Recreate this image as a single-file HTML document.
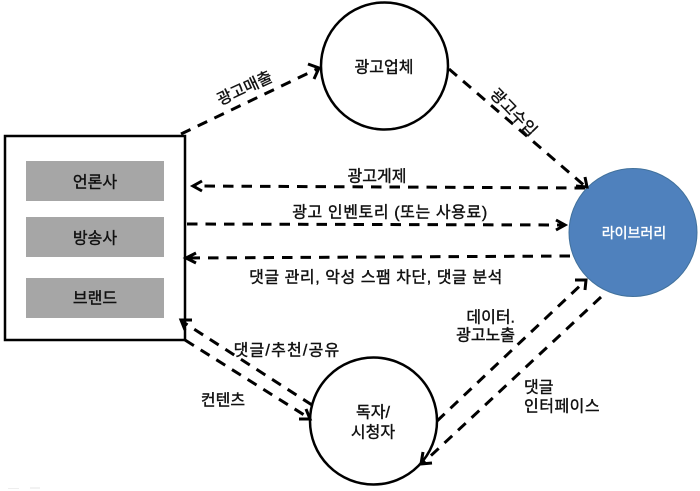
<!DOCTYPE html>
<html lang="ko">
<head>
<meta charset="utf-8">
<style>
html,body{margin:0;padding:0;background:#fff;width:700px;height:491px;overflow:hidden}
svg{display:block}
text{font-family:"Liberation Sans","Noto Sans CJK KR",sans-serif;font-size:16px;fill:#111;text-anchor:middle;dominant-baseline:central;stroke:#111;stroke-width:.4px}
.d{fill:none;stroke:#000;stroke-width:3;stroke-dasharray:10.5 8}
.h{fill:none;stroke:#000;stroke-width:3}
.c{fill:#fff;stroke:#000;stroke-width:2.5}
.g{fill:#a6a6a6}
</style>
</head>
<body>
<svg width="700" height="491" viewBox="0 0 700 491" xmlns="http://www.w3.org/2000/svg">
<rect x="5" y="136" width="180" height="204" fill="#fff" stroke="#000" stroke-width="2.5"/>
<rect class="g" x="26" y="161" width="138" height="40"/>
<rect class="g" x="26" y="217" width="138" height="40"/>
<rect class="g" x="26" y="278" width="138" height="40"/>
<rect x="8" y="488" width="11" height="1" fill="#eee"/>
<rect x="30" y="487" width="10" height="2" fill="#f2f2f2"/>
<circle class="c" cx="384.5" cy="66" r="63.5"/>
<circle class="c" cx="373.5" cy="421" r="63.5"/>
<circle cx="633" cy="232.5" r="64" fill="#4f81bd" stroke="#41719c" stroke-width="1"/>

<line class="d" x1="181" y1="134" x2="317" y2="69"/>
<path class="h" d="M308 64L319 68L314 79"/>
<line class="d" x1="449" y1="69" x2="586" y2="187"/>
<path class="h" d="M576 186L587 187L585 177"/>
<line class="d" x1="585" y1="188" x2="195" y2="186"/>
<path class="h" d="M202 181L193 186L202 191"/>
<line class="d" x1="187" y1="224" x2="563" y2="225"/>
<path class="h" d="M556 220L565 225L556 230"/>
<line class="d" x1="570" y1="256" x2="188" y2="258"/>
<path class="h" d="M196 253L186 258L196 263"/>
<line class="d" x1="437" y1="421" x2="585" y2="281"/>
<path class="h" d="M575 280L586 280L585 290"/>
<line class="d" x1="601" y1="297" x2="423" y2="463"/>
<path class="h" d="M423 452L421 464L432 463"/>
<line class="d" x1="185" y1="340" x2="309" y2="418"/>
<path class="h" d="M299 419L310 419L306 409"/>
<line class="d" x1="312" y1="405" x2="183" y2="322"/>
<path class="h" d="M192 320L181 320L185 330"/>

<text x="245" y="89" transform="rotate(-25 245 89)">광고매출</text>
<text x="384" y="68">광고업체</text>
<text x="513" y="113" transform="rotate(46 513 113)">광고수입</text>
<text x="377" y="177">광고게제</text>
<text x="390" y="213" style="letter-spacing:.6px">광고 인벤토리 (또는 사용료)</text>
<text x="376" y="278" style="letter-spacing:.55px">댓글 관리, 악성 스팸 차단, 댓글 분석</text>
<text x="95" y="183">언론사</text>
<text x="95" y="239">방송사</text>
<text x="95" y="299">브랜드</text>
<text x="634" y="233" style="fill:#fff;stroke:#fff;font-size:14px">라이브러리</text>
<text x="287" y="351" style="letter-spacing:1.2px">댓글/추천/공유</text>
<text x="223" y="401">컨텐츠</text>
<text x="373" y="413">독자/</text>
<text x="373" y="433">시청자</text>
<text x="515" y="318" style="text-anchor:end">데이터.</text>
<text x="515" y="336" style="text-anchor:end">광고노출</text>
<text x="524" y="388" style="text-anchor:start">댓글</text>
<text x="524" y="407" style="text-anchor:start;letter-spacing:.5px">인터페이스</text>
</svg>
</body>
</html>
